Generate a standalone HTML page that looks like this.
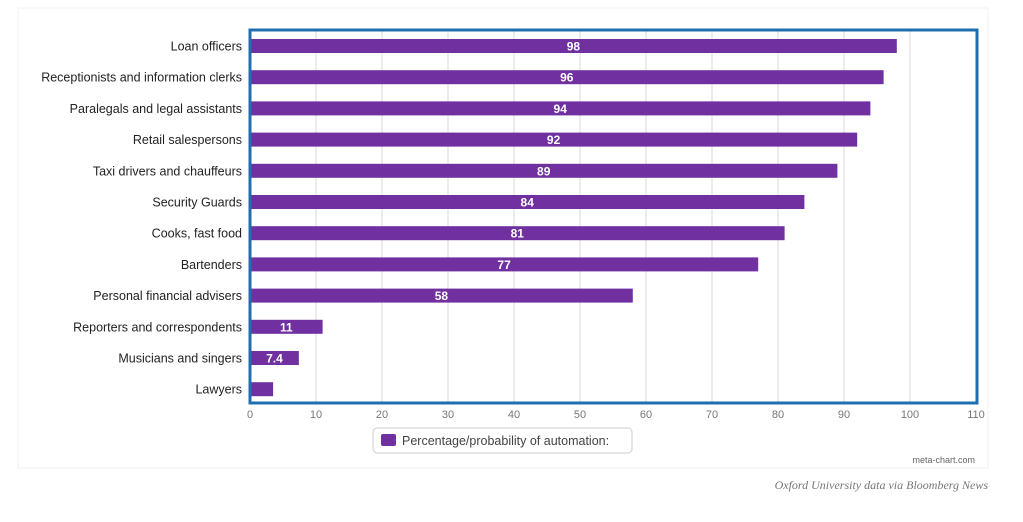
<!DOCTYPE html>
<html><head><meta charset="utf-8"><style>
body{margin:0;width:1023px;height:517px;background:#fff;overflow:hidden;font-family:"Liberation Sans",sans-serif;}
</style></head><body>
<svg width="1023" height="517">
<rect x="18" y="8" width="970" height="460" fill="none" stroke="#f0f0f0"/>
<g id="grid"></g>
<g id="bars"></g>
<g id="labels"></g>
<rect x="250" y="30" width="727" height="373" fill="none" stroke="#1f6fb0" stroke-width="3"/>
<g id="xt"></g>
<g>
<rect x="373" y="428" width="259" height="25" rx="4" fill="#fff" stroke="#ccc"/>
<rect x="381" y="434" width="15" height="12" rx="2" fill="#7030a0"/>
<text x="402" y="445" font-size="12.5" fill="#444">Percentage/probability of automation:</text>
</g>
<text x="975" y="463" font-size="9" fill="#666" text-anchor="end">meta-chart.com</text>
<text x="988" y="489" font-size="12" fill="#777" font-style="italic" text-anchor="end" font-family="Liberation Serif,serif">Oxford University data via Bloomberg News</text>
</svg>
<script>
const categories=["Loan officers","Receptionists and information clerks","Paralegals and legal assistants","Retail salespersons","Taxi drivers and chauffeurs","Security Guards","Cooks, fast food","Bartenders","Personal financial advisers","Reporters and correspondents","Musicians and singers","Lawyers"];
const values=[98,96,94,92,89,84,81,77,58,11,7.4,3.5];
const valueLabels=["98","96","94","92","89","84","81","77","58","11","7.4",""];
const ticks=[0,10,20,30,40,50,60,70,80,90,100,110];
const NS="http://www.w3.org/2000/svg";
const x=v=>250+v*6.6;
const y=i=>46+i*31.2;
function mk(tag,attrs,parent,txt){const e=document.createElementNS(NS,tag);for(const k in attrs)e.setAttribute(k,attrs[k]);if(txt!==undefined)e.textContent=txt;document.getElementById(parent).appendChild(e);return e;}
ticks.forEach(t=>{
 if(t>0){const l=mk('line',{x1:x(t),x2:x(t),y1:30,y2:403,stroke:'#d8d8d8'},'grid');
 
 }
 const tx=mk('text',{x:x(t),y:418,'font-size':11,fill:'#777','text-anchor':'middle'},'xt',String(t));
 
 
});
categories.forEach((c,i)=>{
 const r=mk('rect',{x:x(0),y:y(i)-7,width:x(values[i])-x(0),height:14,fill:'#7030a0'},'bars');
 
 
 if(valueLabels[i]){const v=mk('text',{x:(x(0)+x(values[i]))/2,y:y(i)+4.5,'font-size':12,'font-weight':'bold',fill:'#fff','text-anchor':'middle'},'labels',valueLabels[i]);
 
 }
 const t=mk('text',{x:242,y:y(i)+4.5,'font-size':12.5,fill:'#222','text-anchor':'end'},'labels',c);
 
 
});
</script>
</body></html>
